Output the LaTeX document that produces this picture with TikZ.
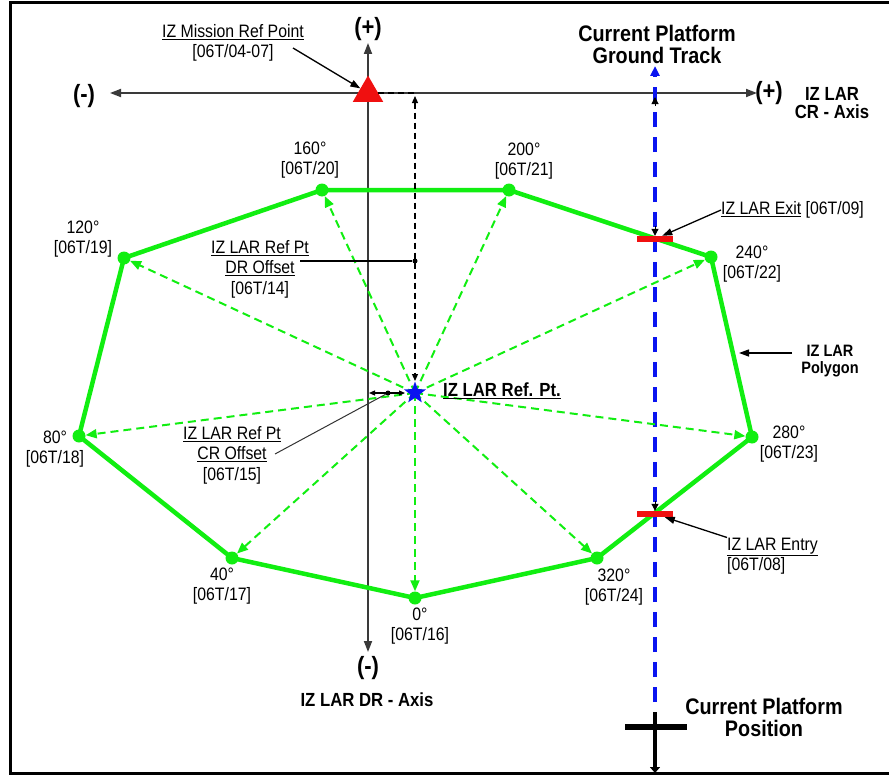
\documentclass[tikz,border=0pt]{standalone}
\usepackage{fontspec}
\setmainfont{Liberation Sans}[FakeStretch=0.88]
\usetikzlibrary{arrows.meta,positioning,shapes.geometric}
\definecolor{lgreen}{HTML}{11EE11}
\definecolor{trkblue}{HTML}{0A14F0}
\definecolor{ptred}{HTML}{F01010}
\definecolor{axgray}{HTML}{3A3A3A}

\begin{document}
\begin{tikzpicture}[x=1pt,y=-1pt,
    lbl/.style={align=center,inner sep=0pt,font=\fontsize{18}{20.5}\selectfont},
    bld/.style={align=center,inner sep=0pt,font=\fontsize{19}{18.5}\selectfont\bfseries},
    big/.style={align=center,inner sep=0pt,font=\fontsize{22.5}{22}\selectfont\bfseries},
    sgn/.style={inner sep=0pt,font=\fontsize{25}{25}\selectfont\bfseries},
    vtx/.style={circle,fill=lgreen,minimum size=13pt,inner sep=0pt},
    ddot/.style={circle,fill=black,minimum size=5pt,inner sep=0pt},
    gatebar/.style={rectangle,fill=ptred,minimum width=36pt,minimum height=6pt,inner sep=0pt},
    poly/.style={lgreen,line width=4.5pt,line join=round},
    ray/.style={lgreen,line width=2pt,dash pattern=on 8pt off 5pt,-{Triangle[length=11pt,width=9pt]}},
    ax/.style={axgray,line width=1.8pt,{Triangle[length=11pt,width=8pt]}-{Triangle[length=11pt,width=8pt]}},
    lead/.style={black,line width=1.3pt,-{Triangle[length=10pt,width=7pt]}},
    smtip/.style={black,line width=1pt,-{Triangle[length=7pt,width=7pt]}},
    dimln/.style={black,line width=1.2pt,dash pattern=on 6pt off 4pt},
    trk/.style={trkblue,line width=3.5pt,dash pattern=on 15pt off 10pt,-{Triangle[length=10pt,width=9pt]}}]

  \useasboundingbox (0,0) rectangle (889,776);
  % frame
  \draw[line width=3pt] (889,3) -| (10,773) -- (889,773);

  % axes
  \coordinate (crL) at (110,93);
  \coordinate (crR) at (757,93);
  \coordinate (drT) at (368,43);
  \coordinate (drB) at (368,652);
  \draw[ax] (crL) -- (crR);
  \draw[ax] (drT) -- (drB);
  \node[sgn] (crneg) at (84,96) {(-)};
  \node[sgn] (crpos) at (769,93) {(+)};
  \node[sgn] (drpos) at (368,29) {(+)};
  \node[sgn] (drneg) at (368,668) {(-)};
  \node[bld] (craxis) at (832,103) {IZ LAR\\CR - Axis};
  \node[bld] (draxis) at (367,700) {IZ LAR DR - Axis};

  % ground track
  \coordinate (trkbot) at (655,702);
  \coordinate (trktop) at (655,66);
  \draw[trk] (trkbot) -- (trktop);
  \node[big] (gtrack) at (657,44) {Current Platform\\Ground Track};

  % LAR polygon
  \foreach \n/\x/\y in {0/415/598,40/232/558,80/79/436,120/124/258,160/322/190,
      200/509/190,240/711/257,280/752/437,320/597/558}
    \node[vtx] (v\n) at (\x,\y) {};
  \draw[poly] (v0.center) -- (v40.center) -- (v80.center) -- (v120.center)
    -- (v160.center) -- (v200.center) -- (v240.center) -- (v280.center)
    -- (v320.center) -- cycle;

  \coordinate (refpt) at (415,393);
  \foreach \n in {0,40,...,320}
    \draw[ray] (refpt) -- (v\n);

  \foreach \n/\x/\y/\idx in {0/420/626/16,40/222/586/17,80/55/449/18,120/83/239/19,
      160/310/160/20,200/524/161/21,240/752/264/22,280/789/444/23,320/614/587/24}
    \node[lbl] (l\n) at (\x,\y) {{\n}°\\{}[06T/\idx]};

  % ref point
  \node[star,star points=5,star point ratio=2.4,fill=trkblue,minimum size=23pt,
    inner sep=0pt] (lref) at (refpt) {};
  \node[bld,anchor=west] (lreflbl) at (443,391) {\underline{IZ LAR Ref. Pt.}};

  % mission ref point
  \node[regular polygon,regular polygon sides=3,fill=ptred,minimum size=35pt,
    inner sep=0pt] (mrp) at (368,93) {};
  \node[lbl] (mrplbl) at (233,43) {\underline{IZ Mission Ref Point}\\{}[06T/04-07]};
  \coordinate (mrplead) at (293,48);
  \draw[lead] (mrplead) -- (mrp);

  % DR offset
  \coordinate (drcorner) at (415,93);
  \coordinate (drtop) at (415,96);
  \coordinate (drbot) at (415,381);
  \draw[dimln] (mrp) -- (drcorner);
  \draw[dimln,{Triangle[length=7pt,width=6pt]}-{Triangle[length=7pt,width=6pt]}] (drtop) -- (drbot);
  \node[ddot] (drdot) at (415,261) {};
  \node[lbl] (drlbl) at (260,269) {\underline{IZ LAR Ref Pt}\\\underline{DR Offset}\\{}[06T/14]};
  \coordinate (drlead) at (300,261);
  \draw[black,line width=1.1pt] (drlead) -- (drdot);

  % CR offset
  \coordinate (crl) at (369,393);
  \coordinate (crr) at (405,393);
  \draw[black,line width=1.1pt,{Triangle[length=6pt,width=5pt]}-{Triangle[length=6pt,width=5pt]}] (crl) -- (crr);
  \node[ddot] (crdot) at (388,393) {};
  \node[lbl] (crlbl) at (232,455) {\underline{IZ LAR Ref Pt}\\\underline{CR Offset}\\{}[06T/15]};
  \coordinate (crlead) at (275,454);
  \draw[black!80,line width=1pt] (crdot) -- (crlead);

  % exit / entry
  \node[gatebar] (exitbar) at (655,239) {};
  \node[gatebar] (entrybar) at (655,514) {};
  \coordinate (exittk) at (655,226);
  \coordinate (entrytk) at (655,501);
  \coordinate (axtk) at (655,106);
  \coordinate (axtip) at (655,97);
  \draw[smtip] (exittk) -- (exitbar);
  \draw[smtip] (entrytk) -- (entrybar);
  \draw[smtip] (axtk) -- (axtip);
  \node[lbl,anchor=west] (exitlbl) at (721,210) {\underline{IZ LAR Exit} [06T/09]};
  \draw[lead] (exitlbl.west) -- (exitbar);
  \node[lbl,anchor=west,align=left] (entrylbl) at (727,556) {\underline{IZ LAR Entry}\\{}[06T/08]};
  \draw[lead] (entrylbl.north west) -- (entrybar);

  % polygon label
  \node[bld,font=\fontsize{16.5}{16.5}\selectfont\bfseries] (polylbl) at (830,361) {IZ LAR\\Polygon};
  \coordinate (polytail) at (792,353);
  \coordinate (polyhead) at (739,353);
  \draw[lead] (polytail) -- (polyhead);

  % platform position
  \coordinate (cppT) at (655,712);
  \coordinate (cppB) at (655,773);
  \draw[black,line width=4.5pt,-{Triangle[length=6pt,width=10pt]}] (cppT) -- (cppB);
  \node[fill=black,minimum width=62pt,minimum height=6pt,inner sep=0pt] (cppbar) at (656,727) {};
  \node[big] (cpplbl) at (764,717) {Current Platform\\Position};
\end{tikzpicture}
\end{document}
